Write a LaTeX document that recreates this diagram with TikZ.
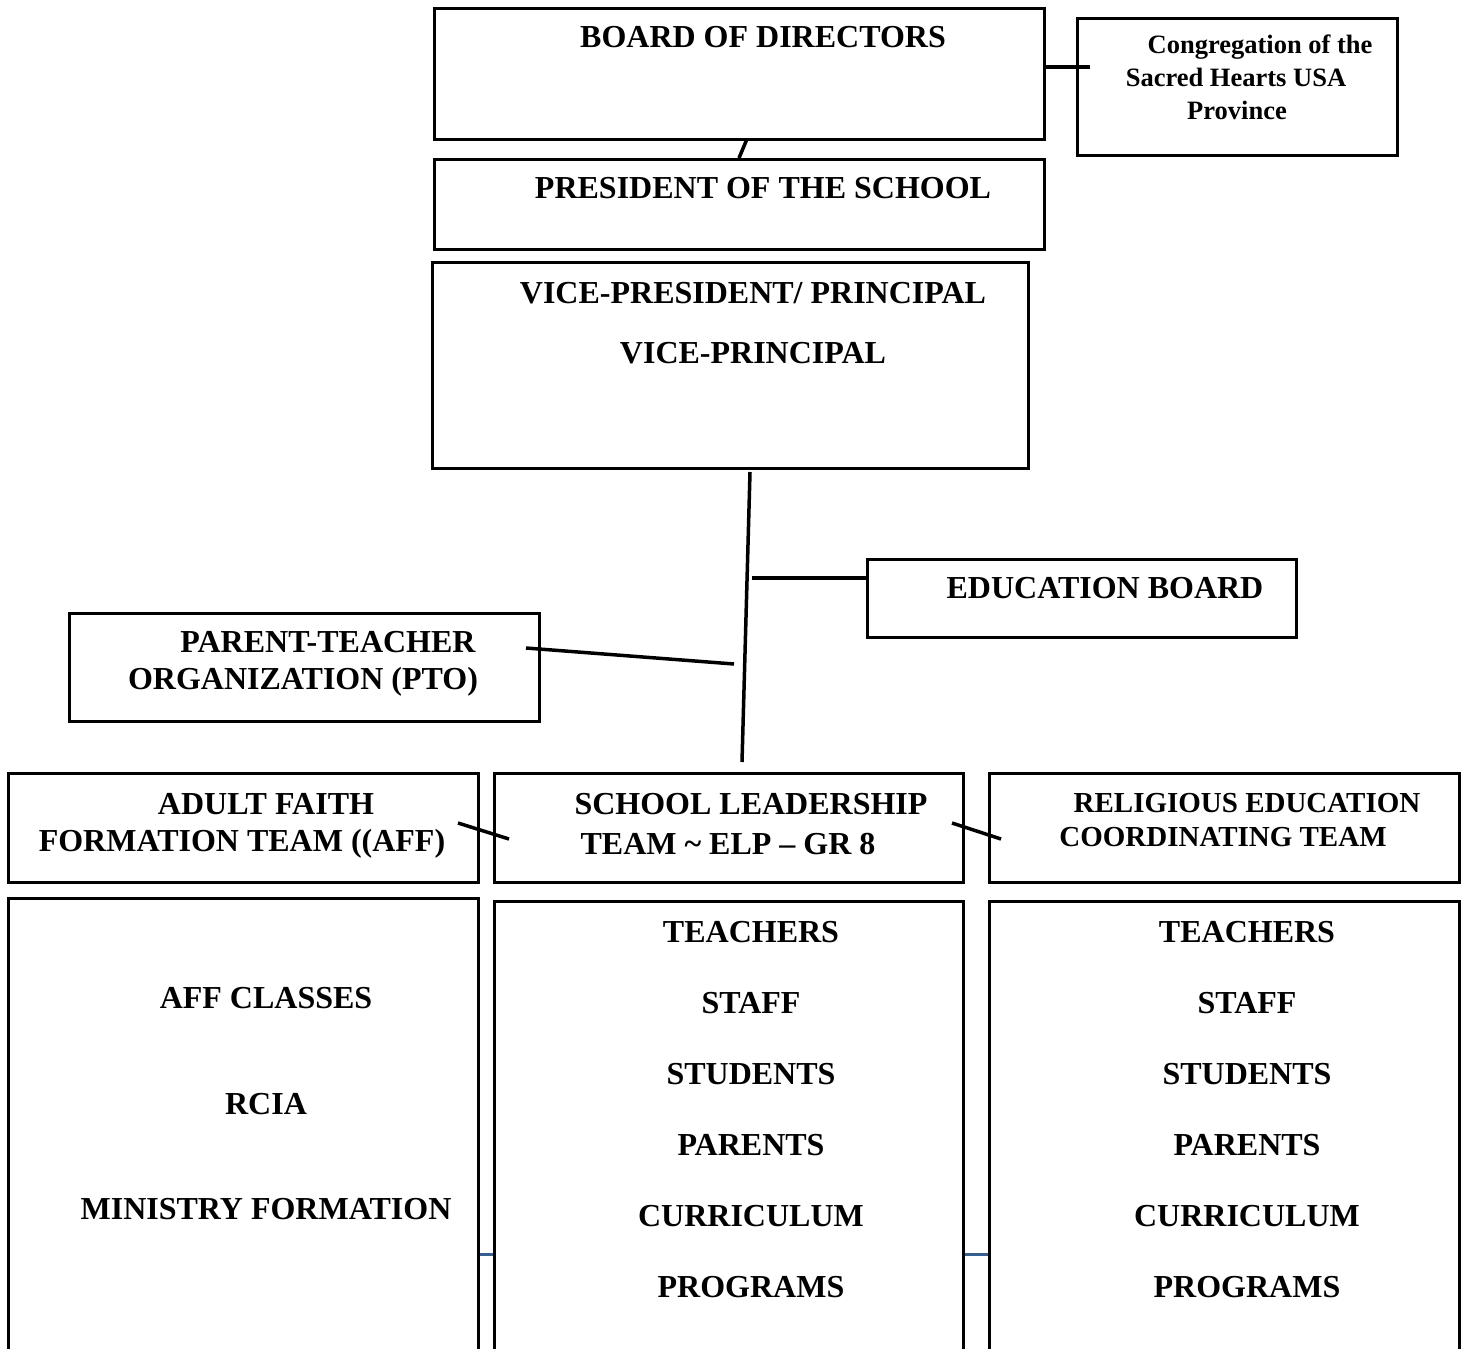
\documentclass[tikz,border=0pt]{standalone}
\usepackage{fontspec}
\setmainfont{Liberation Serif}
\definecolor{wordblue}{RGB}{54,95,145}
\tikzset{
  box/.style={draw, line width=3pt, rectangle, inner sep=0pt, anchor=north west},
  lbl/.style={font=\fontsize{32}{38}\selectfont\bfseries, inner sep=0pt, anchor=base},
  lblmid/.style={font=\fontsize{29}{34}\selectfont\bfseries, inner sep=0pt, anchor=base},
  lblsmall/.style={font=\fontsize{26.5}{33}\selectfont\bfseries, inner sep=0pt, anchor=base},
  link/.style={line width=3.5pt},
  bluelink/.style={line width=3pt, wordblue}
}

\begin{document}
\begin{tikzpicture}[x=1pt, y=-1pt]
  \useasboundingbox (0,0) rectangle (1463,1348);
  \clip (0,0) rectangle (1463,1348);

  % boxes
  \node[box, minimum width=610, minimum height=131] (board) at (433,7) {};
  \node[box, minimum width=320, minimum height=137] (cong) at (1076,17) {};
  \node[box, minimum width=610, minimum height=90] (pres) at (433,158) {};
  \node[box, minimum width=596, minimum height=206] (vp) at (431,261) {};
  \node[box, minimum width=429, minimum height=78] (eduboard) at (866,558) {};
  \node[box, minimum width=470, minimum height=108] (pto) at (68,612) {};
  \node[box, minimum width=470, minimum height=109] (aff) at (7,772) {};
  \node[box, minimum width=469, minimum height=109] (slt) at (493,772) {};
  \node[box, minimum width=470, minimum height=109] (ret) at (988,772) {};
  \node[box, minimum width=470, minimum height=480] (afflist) at (7,897) {};
  \node[box, minimum width=469, minimum height=480] (sltlist) at (493,900) {};
  \node[box, minimum width=470, minimum height=480] (retlist) at (988,900) {};

  % texts
  \node[lbl] (tBoard) at (763,48) {BOARD OF DIRECTORS};
  \node[lblsmall] (tCong1) at (1260,54) {Congregation of the};
  \node[lblsmall] (tCong2) at (1236,87) {Sacred Hearts USA};
  \node[lblsmall] (tCong3) at (1237,120) {Province};
  \node[lbl] (tPres) at (763,199) {PRESIDENT OF THE SCHOOL};
  \node[lbl] (tVp1) at (753,303) {VICE-PRESIDENT/ PRINCIPAL};
  \node[lbl] (tVp2) at (753,363) {VICE-PRINCIPAL};
  \node[lbl] (tEdu) at (1105,598) {EDUCATION BOARD};
  \node[lbl] (tPto1) at (328,652) {PARENT-TEACHER};
  \node[lbl] (tPto2) at (303,689) {ORGANIZATION (PTO)};
  \node[lbl] (tAff1) at (266,814) {ADULT FAITH};
  \node[lbl] (tAff2) at (242,851) {FORMATION TEAM ((AFF)};
  \node[lbl] (tSlt1) at (751,814) {SCHOOL LEADERSHIP};
  \node[lbl] (tSlt2) at (728,854) {TEAM \textasciitilde{} ELP -- GR 8};
  \node[lblmid] (tRet1) at (1247,812) {RELIGIOUS EDUCATION};
  \node[lblmid] (tRet2) at (1223,846) {COORDINATING TEAM};

  \node[lbl] (tAffA) at (266,1008) {AFF CLASSES};
  \node[lbl] (tAffB) at (266,1114) {RCIA};
  \node[lbl] (tAffC) at (266,1219) {MINISTRY FORMATION};

  \foreach \cx/\nm in {751/m, 1247/r} {
    \foreach \t [count=\i] in {TEACHERS, STAFF, STUDENTS, PARENTS, CURRICULUM, PROGRAMS}
      \node[lbl] (t\nm\i) at (\cx, {942 + 71*(\i-1)}) {\t};
  }

  % connector ends
  \coordinate (boardFoot) at (747,139);
  \coordinate (presHead) at (739,158);
  \coordinate (congTab) at (1090,67);
  \coordinate (spineTop) at (750,472);
  \coordinate (spineFoot) at (742,762);
  \coordinate (spineEdu) at (752,578);
  \coordinate (spinePto) at (734,664);
  \coordinate (ptoTab) at (526,648);
  \coordinate (affTab) at (458,823);
  \coordinate (sltTabL) at (509,839);
  \coordinate (sltTabR) at (952,823);
  \coordinate (retTab) at (1001,839);

  % connectors
  \draw[link] (boardFoot) -- (presHead);
  \draw[link] (board.east |- congTab) -- (congTab);
  \draw[link] (spineTop) -- (spineFoot);
  \draw[link] (spineEdu) -- (eduboard.west |- spineEdu);
  \draw[link] (ptoTab) -- (spinePto);
  \draw[link] (affTab) -- (sltTabL);
  \draw[link] (sltTabR) -- (retTab);
  \draw[bluelink] (afflist.east |- 0,1254) -- (sltlist.west |- 0,1254);
  \draw[bluelink] (sltlist.east |- 0,1254) -- (retlist.west |- 0,1254);
\end{tikzpicture}
\end{document}
